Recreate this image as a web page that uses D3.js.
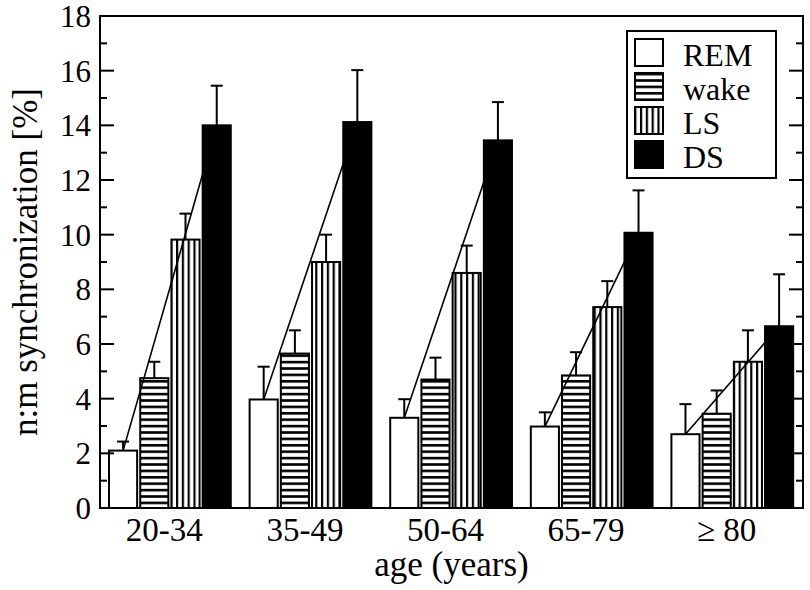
<!DOCTYPE html>
<html><head><meta charset="utf-8">
<script src="https://cdn.jsdelivr.net/npm/d3@7"></script>
<style>body{margin:0;background:#fff}svg{display:block}text{font-family:"Liberation Serif","Times New Roman",serif;fill:#000}</style>
</head><body>
<svg id="c" width="810" height="590"></svg>
<script>
const ageGroups = ["20-34", "35-49", "50-64", "65-79", "\u2265 80"];
const stages = ["REM", "wake", "LS", "DS"];
const remVals  = [2.1, 3.97, 3.3, 2.98, 2.7];
const remErr   = [0.33, 1.2, 0.68, 0.52, 1.1];
const wakeVals = [4.75, 5.65, 4.7, 4.85, 3.45];
const wakeErr  = [0.6, 0.85, 0.8, 0.85, 0.85];
const lsVals   = [9.82, 9.0, 8.6, 7.35, 5.35];
const lsErr    = [0.95, 1.0, 1.0, 0.95, 1.15];
const dsVals   = [14.0, 14.12, 13.45, 10.07, 6.65];
const dsErr    = [1.45, 1.9, 1.4, 1.55, 1.9];
const yTicks = [0, 2, 4, 6, 8, 10, 12, 14, 16, 18];

const series = [remVals, wakeVals, lsVals, dsVals];
const errs = [remErr, wakeErr, lsErr, dsErr];

const svg = d3.select("#c");
const L = 100, R = 803, T = 16, B = 508;
const x = d3.scaleLinear().domain([0.5, 5.5]).range([L, R]);
const y = d3.scaleLinear().domain([0, 18]).range([B, T]);

const defs = svg.append("defs");
const ph = defs.append("pattern").attr("id", "hz").attr("patternUnits", "userSpaceOnUse")
  .attr("width", 8).attr("height", 6.4).attr("y", B);
ph.append("rect").attr("width", 8).attr("height", 6.4).attr("fill", "#fff");
ph.append("rect").attr("y", 0).attr("width", 8).attr("height", 2.6).attr("fill", "#000");
const pv = defs.append("pattern").attr("id", "vt").attr("patternUnits", "userSpaceOnUse")
  .attr("width", 5.8).attr("height", 8).attr("x", 2);
pv.append("rect").attr("width", 5.8).attr("height", 8).attr("fill", "#fff");
pv.append("rect").attr("x", 0).attr("width", 2.2).attr("height", 8).attr("fill", "#000");
const fills = ["#fff", "url(#hz)", "url(#vt)", "#000"];

const step = 0.222, start = -0.443, bw = 0.2;
const barLeft = (g, k) => x(g + 1 + start + k * step);
const barW = x(bw) - x(0);
const barC = (g, k) => barLeft(g, k) + barW / 2 + 1;

const gBars = svg.append("g");
function drawBars(k) {
  gBars.selectAll(null).data(series[k]).enter().append("rect")
    .attr("x", (d, i) => barLeft(i, k) + 1)
    .attr("y", d => y(d))
    .attr("width", barW)
    .attr("height", d => y(0) - y(d))
    .attr("fill", fills[k]).attr("stroke", "#000").attr("stroke-width", 2);
}
function drawErr(k) {
  const ge = gBars.append("g").attr("stroke", "#000").attr("stroke-width", 2);
  series[k].forEach((v, i) => {
    const cx = barC(i, k);
    ge.append("line").attr("x1", cx).attr("x2", cx).attr("y1", y(v)).attr("y2", y(v + errs[k][i]));
    ge.append("line").attr("x1", cx - 6).attr("x2", cx + 6).attr("y1", y(v + errs[k][i])).attr("y2", y(v + errs[k][i]));
  });
}
[0, 1, 2, 3].forEach(k => drawBars(k));
[0, 1, 2, 3].forEach(k => drawErr(k));
remVals.forEach((v, i) => {
  gBars.append("line").attr("x1", barC(i, 0)).attr("y1", y(v))
    .attr("x2", barC(i, 3)).attr("y2", y(dsVals[i]))
    .attr("stroke", "#000").attr("stroke-width", 1.6);
});

svg.append("rect").attr("x", L).attr("y", T).attr("width", R - L).attr("height", B - T)
  .attr("fill", "none").attr("stroke", "#000").attr("stroke-width", 2);

const gt = svg.append("g").attr("stroke", "#000").attr("stroke-width", 2);
d3.range(0, 19, 1).forEach(v => {
  const len = v % 2 === 0 ? 14 : 7;
  if (v === 0 || v === 18) return;
  gt.append("line").attr("x1", L).attr("x2", L + len).attr("y1", y(v)).attr("y2", y(v));
  gt.append("line").attr("x1", R).attr("x2", R - len).attr("y1", y(v)).attr("y2", y(v));
});
svg.append("g").selectAll("text").data(yTicks).enter().append("text")
  .attr("x", L - 9).attr("y", d => y(d) + 11)
  .attr("text-anchor", "end").attr("font-size", 31).text(d => d);

svg.append("g").selectAll("text").data(ageGroups).enter().append("text")
  .attr("x", (d, i) => x(i + 1) - 6).attr("y", 541)
  .attr("text-anchor", "middle").attr("font-size", 33).text(d => d);

svg.append("text").attr("x", (L + R) / 2).attr("y", 576).attr("text-anchor", "middle")
  .attr("font-size", 35).text("age (years)");
svg.append("text").attr("transform", `translate(37,${(T + B) / 2}) rotate(-90)`)
  .attr("text-anchor", "middle").attr("font-size", 35).text("n:m synchronization [%]");

const lg = svg.append("g");
lg.append("rect").attr("x", 627).attr("y", 31).attr("width", 149).attr("height", 147)
  .attr("fill", "#fff").attr("stroke", "#000").attr("stroke-width", 2);
stages.forEach((s, i) => {
  lg.append("rect").attr("x", 635).attr("y", 39 + i * 34).attr("width", 28).attr("height", 27)
    .attr("fill", fills[i]).attr("stroke", "#000").attr("stroke-width", 2);
  lg.append("text").attr("x", 683).attr("y", 66 + i * 34).attr("font-size", 32).text(s);
});
</script>
</body></html>
